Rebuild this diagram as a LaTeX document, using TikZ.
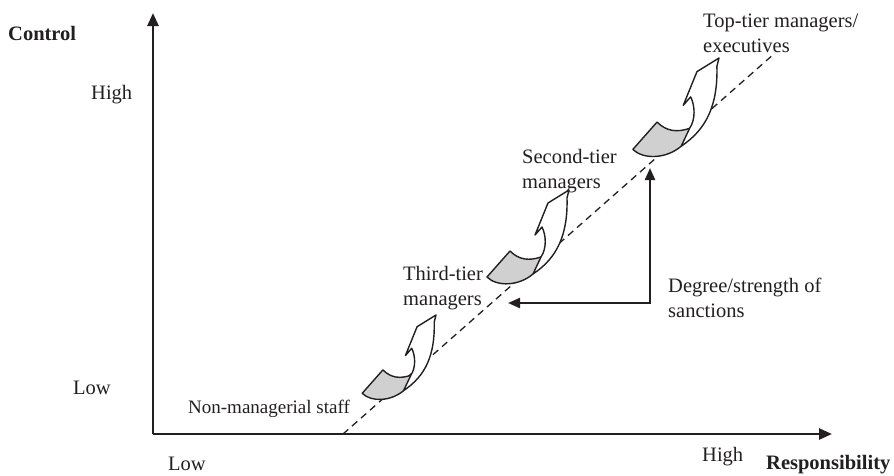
\documentclass[tikz,border=0pt]{standalone}
\usepackage{fontspec}
\setmainfont{Liberation Serif}
\usetikzlibrary{arrows.meta}
\definecolor{sheetgrey}{RGB}{208,208,208}
\definecolor{ink}{RGB}{35,31,32}
\tikzset{
  axisline/.style={line width=2.6pt, draw=ink, -{Triangle[length=13pt,width=11pt]}},
  sanctline/.style={line width=2.2pt, draw=ink, {Triangle[length=12pt,width=10pt]}-{Triangle[length=12pt,width=10pt]}},
  diagline/.style={draw=ink, line width=1.3pt, dash pattern=on 7pt off 5pt},
  lbl/.style={inner sep=0pt, anchor=base west, text=ink, align=left},
  curlarrow/.pic={
    \fill[sheetgrey] (-59,61) .. controls (-50,70) and (-40,71) .. (-28,67)
        -- (-36,84) .. controls (-50,96) and (-72,97) .. (-82,87) -- cycle;
    \draw[draw=ink, line width=1.4pt, line join=round]
        (-28,67) .. controls (-40,71) and (-50,70) .. (-59,61)
        -- (-82,87) .. controls (-72,97) and (-50,96) .. (-36,84);
    \filldraw[fill=white, draw=ink, line width=1.4pt, line join=round]
        (0,0) -- (-2,8) .. controls (-1,45) and (-12,68) .. (-36,84)
        -- (-28,67) .. controls (-22,58) and (-23,45) .. (-27,37)
        -- (-34,45) -- (-21,13) -- cycle;
  }
}
\begin{document}
\begin{tikzpicture}[x=1pt, y=-1pt, font=\fontsize{20.5}{25}\selectfont]
\useasboundingbox (0,0) rectangle (894,475);

% coordinates
\coordinate (O) at (153,434);
\coordinate (ytip) at (153,13);
\coordinate (xtip) at (832,434);
\coordinate (dA) at (343,434);
\coordinate (dB) at (775,53);
\coordinate (corner) at (650,303);
\coordinate (vtip) at (650,168);
\coordinate (htip) at (508,303);

% diagonal
\draw[diagline] (dA) -- (dB);

% curled arrows
\pic[scale=0.9] (arr3) at (436,315) {curlarrow};
\pic (arr2) at (569,190) {curlarrow};
\pic[scale=1.05] (arr1) at (719,58) {curlarrow};

% sanctions arrows
\draw[sanctline] (vtip) -- (corner) -- (htip);

% axes
\draw[axisline] (O) -- (ytip);
\draw[axisline] (O) -- (xtip);

% labels (anchor = baseline of last line)
\node[lbl] (ctrl) at (8,40) {\textbf{Control}};
\node[lbl] (yhigh) at (91,99) {High};
\node[lbl] (ylow) at (73,394) {Low};
\node[lbl] (xlow) at (168,470) {Low};
\node[lbl] (xhigh) at (702,461) {High};
\node[lbl] (resp) at (766,469) {\textbf{Responsibility}};
\node[lbl, font=\fontsize{19}{24}\selectfont] (nonman) at (188,413) {Non-managerial staff};
\node[lbl] (third) at (403,305) {Third-tier\\managers};
\node[lbl] (second) at (522,188) {Second-tier\\managers};
\node[lbl] (toptier) at (703,52) {Top-tier managers/\\executives};
\node[lbl] (deg) at (668,317) {Degree/strength of\\sanctions};
\end{tikzpicture}
\end{document}
